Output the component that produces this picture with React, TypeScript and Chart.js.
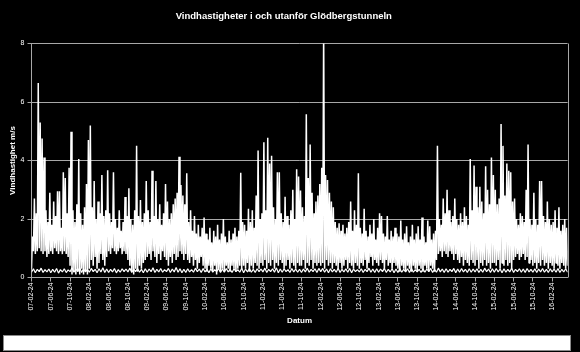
import React, { useEffect, useRef } from 'react';
import { Chart, registerables } from 'chart.js';

Chart.register(...registerables);

const chartTitle = 'Vindhastigheter i och utanför Glödbergstunneln';
const yTitle = 'Vindhastighet m/s';
const xTitle = 'Datum';

const tickLabels = [
  '07-02-24', '07-06-24', '07-10-24', '08-02-24', '08-06-24', '08-10-24', '09-02-24',
  '09-06-24', '09-10-24', '10-02-24', '10-06-24', '10-10-24', '11-02-24', '11-06-24',
  '11-10-24', '12-02-24', '12-06-24', '12-10-24', '13-02-24', '13-06-24', '13-10-24',
  '14-02-24', '14-06-24', '14-10-24', '15-02-24', '15-06-24', '15-10-24', '16-02-24',
];
const pointsPerLabel = 20;

// Outside the tunnel (spiky series), one row per 4-month label interval
const outsideSpeed = [
  0.3, 1.4, 0.9, 2.7, 0.8, 2.2, 0.9, 6.65, 1.0, 5.3, 0.9, 4.75, 0.8, 4.1, 0.9, 2.3, 0.7, 1.9, 0.8, 2.9,
  0.9, 1.8, 0.8, 2.6, 1.0, 2.1, 0.9, 2.95, 0.8, 2.95, 0.9, 1.7, 0.8, 3.6, 0.9, 3.4, 0.8, 2.2, 0.7, 3.75,
  0.4, 4.98, 0.1, 2.3, 0.2, 1.9, 0.1, 2.5, 0.2, 4.05, 0.1, 2.2, 0.3, 1.8, 0.1, 2.4, 0.2, 3.2, 0.1, 4.7,
  0.3, 5.2, 0.6, 2.4, 0.4, 3.3, 0.7, 2.0, 0.3, 2.6, 0.5, 2.2, 0.8, 3.5, 0.6, 2.1, 0.4, 2.3, 0.7, 3.67,
  0.9, 2.2, 0.8, 1.9, 1.0, 3.6, 0.9, 2.0, 0.8, 1.7, 0.9, 2.3, 1.0, 1.6, 0.8, 1.9, 0.9, 2.75, 0.8, 2.1,
  0.6, 3.05, 0.4, 2.0, 0.2, 1.8, 0.1, 2.3, 0.3, 4.5, 0.2, 2.1, 0.4, 2.65, 0.3, 1.9, 0.5, 2.2, 0.6, 3.3,
  0.7, 2.3, 0.8, 1.9, 0.6, 3.65, 0.9, 2.1, 0.7, 3.3, 0.5, 2.0, 0.8, 2.5, 0.6, 1.8, 0.9, 2.2, 0.7, 3.2,
  0.6, 2.6, 0.4, 2.0, 0.7, 2.2, 0.5, 2.5, 0.8, 2.7, 0.6, 2.9, 0.7, 4.13, 0.9, 3.16, 0.8, 2.8, 0.6, 2.5,
  0.8, 3.56, 0.6, 1.9, 0.5, 2.3, 0.7, 1.6, 0.4, 2.1, 0.6, 1.5, 0.3, 1.8, 0.5, 1.4, 0.7, 1.7, 0.4, 2.05,
  0.3, 1.5, 0.2, 1.3, 0.4, 1.7, 0.3, 1.2, 0.2, 1.6, 0.4, 1.4, 0.1, 1.8, 0.3, 1.3, 0.2, 1.5, 0.3, 2.0,
  0.2, 1.4, 0.4, 1.2, 0.3, 1.6, 0.2, 1.3, 0.4, 1.5, 0.3, 1.7, 0.2, 1.4, 0.3, 1.6, 0.4, 3.58, 0.3, 1.9,
  0.4, 1.8, 0.3, 1.6, 0.5, 2.35, 0.2, 1.9, 0.4, 2.3, 0.3, 1.7, 0.5, 2.8, 0.4, 4.34, 0.3, 2.0, 0.5, 2.2,
  0.4, 4.62, 0.6, 2.3, 0.3, 4.78, 0.5, 3.9, 0.4, 4.16, 0.6, 2.4, 0.3, 2.0, 0.5, 3.6, 0.4, 3.6, 0.6, 2.2,
  0.5, 1.9, 0.3, 2.76, 0.4, 2.1, 0.6, 1.8, 0.3, 2.3, 0.5, 3.0, 0.4, 2.0, 0.3, 3.7, 0.5, 3.45, 0.4, 2.97,
  0.4, 2.4, 0.6, 2.1, 0.3, 5.58, 0.5, 3.4, 0.4, 4.55, 0.6, 2.9, 0.3, 2.2, 0.5, 2.6, 0.4, 2.8, 0.5, 3.2,
  0.4, 3.75, 0.5, 8.5, 0.3, 3.5, 0.6, 3.33, 0.4, 2.9, 0.5, 2.6, 0.3, 2.4, 0.5, 1.9, 0.4, 1.7, 0.3, 1.85,
  0.5, 1.6, 0.3, 1.8, 0.4, 1.5, 0.6, 1.7, 0.3, 1.9, 0.5, 2.6, 0.4, 1.6, 0.3, 2.3, 0.5, 1.8, 0.4, 3.56,
  0.3, 1.7, 0.5, 1.5, 0.4, 2.35, 0.6, 1.6, 0.3, 1.4, 0.5, 1.8, 0.7, 1.5, 0.4, 2.0, 0.6, 1.3, 0.5, 1.7,
  0.4, 2.2, 0.6, 2.1, 0.5, 1.5, 0.3, 1.4, 0.6, 2.1, 0.4, 1.3, 0.5, 1.6, 0.3, 1.4, 0.5, 1.7, 0.4, 1.5,
  0.3, 1.4, 0.2, 1.95, 0.4, 1.3, 0.3, 1.5, 0.2, 1.75, 0.4, 1.2, 0.3, 1.4, 0.2, 1.8, 0.4, 1.3, 0.3, 1.5,
  0.2, 1.75, 0.4, 1.3, 0.3, 2.05, 0.2, 1.4, 0.4, 1.2, 0.3, 1.95, 0.2, 1.75, 0.4, 1.3, 0.3, 1.5, 0.2, 1.6,
  0.6, 4.5, 0.8, 2.0, 0.9, 1.8, 0.7, 2.7, 0.9, 2.2, 0.8, 3.0, 0.7, 2.3, 0.9, 1.9, 0.8, 2.1, 0.6, 2.7,
  0.8, 2.0, 0.6, 1.8, 0.5, 2.2, 0.7, 1.9, 0.4, 2.4, 0.6, 2.1, 0.5, 1.8, 0.4, 4.05, 0.6, 2.3, 0.5, 3.83,
  0.4, 3.1, 0.6, 2.4, 0.3, 3.1, 0.5, 2.6, 0.4, 2.2, 0.6, 3.8, 0.4, 3.0, 0.5, 2.5, 0.3, 4.1, 0.5, 3.5,
  0.5, 3.0, 0.4, 2.5, 0.6, 2.7, 0.3, 5.25, 0.5, 4.5, 0.4, 2.8, 0.6, 3.9, 0.4, 3.65, 0.5, 3.6, 0.3, 2.6,
  0.6, 2.7, 0.7, 2.0, 0.8, 1.8, 0.6, 2.2, 0.7, 2.1, 0.8, 1.9, 0.6, 3.0, 0.7, 4.55, 0.5, 2.0, 0.6, 1.8,
  0.4, 2.9, 0.5, 2.0, 0.3, 1.8, 0.5, 3.3, 0.4, 3.3, 0.6, 2.1, 0.4, 1.9, 0.5, 2.6, 0.3, 2.0, 0.5, 1.8,
  0.4, 1.9, 0.3, 2.3, 0.5, 1.7, 0.4, 2.4, 0.3, 1.6, 0.5, 1.8, 0.4, 2.0, 0.3, 1.7, 0.4,
];

// Inside the tunnel (low series), one value every second step
const insideStep = 2;
const insideSpeed = [
  0.18, 0.30, 0.16, 0.28, 0.20, 0.32, 0.17, 0.27, 0.19, 0.29,
  0.16, 0.28, 0.18, 0.31, 0.15, 0.27, 0.19, 0.30, 0.17, 0.26,
  0.20, 0.33, 0.18, 0.29, 0.21, 0.34, 0.17, 0.30, 0.19, 0.28,
  0.18, 0.31, 0.20, 0.28, 0.16, 0.30, 0.19, 0.33, 0.17, 0.29,
  0.17, 0.28, 0.19, 0.31, 0.16, 0.27, 0.18, 0.30, 0.20, 0.29,
  0.19, 0.32, 0.17, 0.29, 0.20, 0.31, 0.18, 0.28, 0.16, 0.30,
  0.18, 0.29, 0.20, 0.33, 0.17, 0.28, 0.19, 0.31, 0.18, 0.27,
  0.20, 0.31, 0.17, 0.29, 0.19, 0.34, 0.18, 0.30, 0.16, 0.28,
  0.17, 0.30, 0.19, 0.27, 0.18, 0.32, 0.20, 0.29, 0.17, 0.31,
  0.19, 0.28, 0.16, 0.30, 0.18, 0.27, 0.20, 0.31, 0.17, 0.29,
  0.18, 0.31, 0.19, 0.28, 0.17, 0.30, 0.20, 0.27, 0.18, 0.32,
  0.16, 0.29, 0.19, 0.31, 0.18, 0.28, 0.17, 0.30, 0.20, 0.29,
  0.19, 0.32, 0.17, 0.28, 0.20, 0.30, 0.18, 0.33, 0.16, 0.29,
  0.18, 0.30, 0.20, 0.27, 0.17, 0.31, 0.19, 0.29, 0.18, 0.28,
  0.17, 0.29, 0.19, 0.32, 0.18, 0.28, 0.20, 0.30, 0.17, 0.31,
  0.20, 0.31, 0.18, 0.29, 0.16, 0.30, 0.19, 0.28, 0.18, 0.32,
  0.17, 0.28, 0.19, 0.30, 0.18, 0.31, 0.16, 0.29, 0.20, 0.27,
  0.19, 0.30, 0.17, 0.28, 0.20, 0.32, 0.18, 0.29, 0.17, 0.30,
  0.18, 0.29, 0.20, 0.31, 0.17, 0.28, 0.19, 0.30, 0.16, 0.29,
  0.17, 0.31, 0.18, 0.28, 0.19, 0.30, 0.17, 0.32, 0.18, 0.27,
  0.19, 0.28, 0.17, 0.30, 0.18, 0.29, 0.20, 0.31, 0.17, 0.28,
  0.18, 0.32, 0.19, 0.29, 0.17, 0.30, 0.18, 0.28, 0.20, 0.31,
  0.16, 0.29, 0.18, 0.31, 0.19, 0.28, 0.17, 0.30, 0.18, 0.29,
  0.19, 0.30, 0.17, 0.28, 0.18, 0.32, 0.20, 0.29, 0.17, 0.30,
  0.18, 0.31, 0.19, 0.29, 0.16, 0.30, 0.18, 0.28, 0.19, 0.32,
  0.17, 0.28, 0.20, 0.30, 0.18, 0.29, 0.17, 0.31, 0.19, 0.28,
  0.18, 0.30, 0.17, 0.29, 0.19, 0.31, 0.18, 0.28, 0.17, 0.30,
  0.19, 0.29, 0.18, 0.31, 0.17, 0.28, 0.19, 0.30, 0.18,
];

const yTicks = [0, 2, 4, 6, 8];

const GRID = '#a8a8a8';
const FONT = "'Liberation Sans', Arial, sans-serif";

const framePlugin = {
  id: 'frame',
  afterDraw(chart: any) {
    const { ctx, chartArea } = chart;
    ctx.save();
    ctx.strokeStyle = GRID;
    ctx.lineWidth = 1;
    const xr = Math.round(chartArea.right) + 0.5;
    ctx.beginPath();
    ctx.moveTo(xr, chartArea.top);
    ctx.lineTo(xr, chartArea.bottom);
    ctx.stroke();
    // empty legend box at the bottom
    ctx.fillStyle = '#ffffff';
    ctx.fillRect(3, 335, 568, 16);
    ctx.strokeStyle = '#8a8a8a';
    ctx.strokeRect(3.5, 335.5, 567, 15);
    ctx.restore();
  },
};

export default function App() {
  const ref = useRef<HTMLCanvasElement | null>(null);

  useEffect(() => {
    document.body.style.margin = '0';
    document.body.style.background = '#000';
    const canvas = ref.current;
    if (!canvas) return;
    const maxX = outsideSpeed.length - 1;
    const chart = new Chart(canvas, {
      type: 'line',
      data: {
        datasets: [
          {
            label: 'Utanför',
            data: outsideSpeed.map((v, i) => ({ x: i, y: v })),
            borderColor: '#ffffff',
            borderWidth: 1.5,
            pointRadius: 0,
            tension: 0,
            borderJoinStyle: 'bevel',
          },
          {
            label: 'I tunneln',
            data: insideSpeed.map((v, k) => ({ x: k * insideStep, y: v })),
            borderColor: '#ffffff',
            borderWidth: 1.2,
            pointRadius: 0,
            tension: 0,
            borderJoinStyle: 'bevel',
          },
        ],
      },
      options: {
        animation: false,
        responsive: false,
        devicePixelRatio: 1,
        layout: { padding: { left: 0, right: 12.4, top: 0, bottom: 24.5 } },
        plugins: {
          legend: { display: false },
          tooltip: { enabled: false },
          title: {
            display: true,
            text: chartTitle,
            color: '#ffffff',
            font: { family: FONT, size: 9.5, weight: 'bold' },
            padding: { top: 10.8, bottom: 21.3 },
          },
        },
        scales: {
          x: {
            type: 'linear',
            min: 0,
            max: maxX,
            afterFit: (scale: any) => {
              scale.height = 50;
            },
            afterBuildTicks: (scale: any) => {
              scale.ticks = tickLabels.map((_, j) => ({ value: j * pointsPerLabel }));
            },
            ticks: {
              autoSkip: false,
              minRotation: 90,
              maxRotation: 90,
              padding: 1,
              color: '#ffffff',
              font: { family: FONT, size: 7 },
              callback: (value: any) => tickLabels[Math.round(Number(value) / pointsPerLabel)] ?? '',
            },
            grid: {
              drawOnChartArea: false,
              drawTicks: true,
              tickLength: 4,
              color: GRID,
            },
            border: { display: true, color: GRID },
            title: {
              display: true,
              text: xTitle,
              color: '#ffffff',
              font: { family: FONT, size: 8, weight: 'bold' },
              padding: { top: 0, bottom: 2 },
            },
          },
          y: {
            min: 0,
            max: 8,
            afterFit: (scale: any) => {
              scale.width = 31.5;
            },
            afterBuildTicks: (scale: any) => {
              scale.ticks = yTicks.map((v) => ({ value: v }));
            },
            ticks: {
              padding: 3,
              color: '#ffffff',
              font: { family: FONT, size: 7 },
            },
            grid: {
              color: GRID,
              drawTicks: true,
              tickLength: 4,
            },
            border: { display: true, color: GRID },
            title: {
              display: true,
              text: yTitle,
              color: '#ffffff',
              font: { family: FONT, size: 8, weight: 'bold' },
              padding: { top: 8, bottom: 0 },
            },
          },
        },
      },
      plugins: [framePlugin],
    });
    return () => chart.destroy();
  }, []);

  return (
    <div style={{ position: 'fixed', left: 0, top: 0, width: 580, height: 352, background: '#000' }}>
      <canvas ref={ref} width={580} height={352} style={{ display: 'block', width: 580, height: 352 }} />
    </div>
  );
}
